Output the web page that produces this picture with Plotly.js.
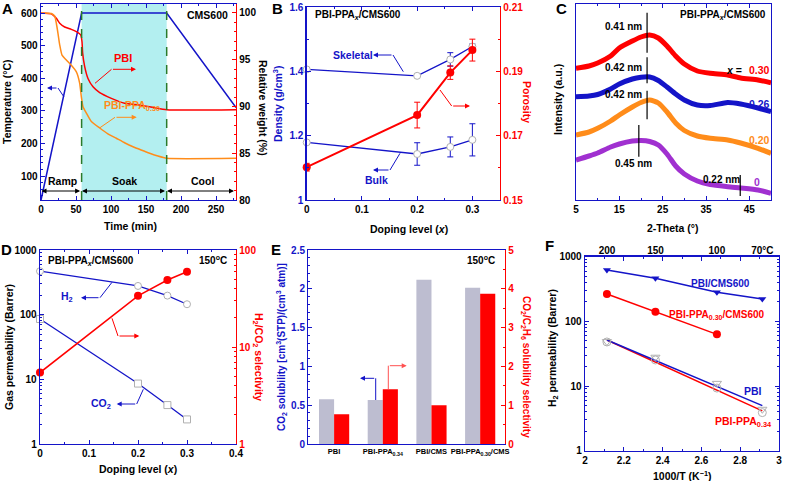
<!DOCTYPE html>
<html><head><meta charset="utf-8">
<script src="https://cdn.plot.ly/plotly-3.0.1.min.js"></script>
<style>html,body{margin:0;padding:0;background:#fff}#chart{width:785px;height:481px}</style>
</head><body><div id="chart"></div>
<script>
// ---------------- DATA ----------------
// Panel A: heating protocol and TGA
const timeTemp = [0, 58, 179.5, 278.5];
const tempC = [26, 600, 600, 310];
const timePBI = [0, 14.8, 21.9, 26.7, 33.8, 43.3, 50.5, 56.7, 58.6, 59.5, 62.4, 67.1, 74.3, 83.8, 100.5, 119.5, 140, 160, 179.5, 278.5];
const weightPBI = [100, 99.9, 99.43, 98.9, 98.5, 98.25, 98.0, 97.65, 96.9, 95.7, 94.26, 93.0, 92.1, 91.48, 90.87, 90.34, 90.15, 89.9, 89.65, 89.65];
const timePPA = [0, 14.8, 19.5, 21.9, 24.3, 26.7, 30, 36.2, 43.3, 50.5, 55.2, 57.6, 60, 64.8, 71.9, 83.8, 95, 107.6, 120, 131.4, 143, 155.2, 167, 179.5, 278.5];
const weightPPA = [100, 99.95, 99.68, 98.9, 97.8, 96.6, 95.5, 94.97, 94.4, 93.7, 92.5, 91.05, 89.98, 89.3, 88.4, 87.7, 87.1, 86.6, 86.1, 85.7, 85.35, 85.0, 84.7, 84.46, 84.46];
const soakStart = 58, soakEnd = 179.5;

// Panel B: density / porosity
const dopingB = [0, 0.2, 0.26, 0.3];
const skeletal = [1.406, 1.386, 1.437, 1.477];
const skeletalErr = [0, 0, 0.021, 0.008];
const bulk = [1.179, 1.143, 1.165, 1.187];
const bulkErr = [0, 0.035, 0.031, 0.05];
const porosity = [0.1602, 0.1764, 0.1896, 0.1966];
const porosityErr = [0.0012, 0.004, 0.0021, 0.0034];

// Panel C: XRD (smoothed traces, arbitrary intensity units)
const theta = [5, 8, 10, 13, 15, 18, 20, 22, 24, 26, 28, 30, 33, 36, 40, 43, 47, 50];
const xrd030 = [131.7, 134, 137, 144, 152, 159, 163, 165, 162, 154, 144, 136, 129, 126.7, 125, 122, 120, 117.3];
const xrd026 = [103.3, 104, 105.5, 111, 116, 121, 122.7, 123, 119.5, 113, 106, 100, 95, 94.5, 97.5, 96, 92, 88.3];
const xrd020 = [65, 68, 71.7, 79, 85, 93, 97.5, 100, 97, 88, 77, 69.5, 64, 61.7, 60, 57, 51.7, 46.7];
const xrd000 = [40, 44, 47, 53, 56, 59, 59.5, 58.5, 55, 46, 34, 26, 19, 15.5, 13.3, 12, 10, 6.7];

// Panel D: gas permeation at 150 C
const dopingD = [0, 0.2, 0.26, 0.3];
const permH2 = [470, 278, 197, 145];
const permCO2 = [85.7, 8.6, 4.0, 2.4];
const selH2CO2 = [5.45, 33.7, 49, 59.7];

// Panel E: solubility
const samplesE = ['PBI', 'PBI-PPA<sub>0.34</sub>', 'PBI/CMS', 'PBI-PPA<sub>0.30</sub>/CMS'];
const solCO2 = [0.576, 0.567, 2.117, 2.014];
const solSel = [0.765, 1.41, 0.997, 3.87];

// Panel F: Arrhenius
const invT = [2.113, 2.363, 2.68, 2.914];
const tempTopC = [200, 150, 100, 70];
const tempTopLabels = ['200', '150', '100', '70°C'];
const h2PbiCms = [622, 464, 282, 222];
const h2PpaCms = [265, 141, 63];
const h2Pbi = [48.7, 27.9, 11.0, 4.37];
const h2Ppa34 = [48, 25.3, 9.3, 3.88];
const fitX = [2.113, 2.914];
const fitPbi = [51.6, 4.98];
const fitPpa34 = [51.6, 4.12];

// ---------------- STYLE ----------------
const W = 785, H = 481;
const FF = 'Liberation Sans, Arial, Helvetica, sans-serif';
const BLUE = '#1414c8', RED = '#ff0000', ORANGE = '#ff8c1a', PURPLE = '#a030d0', GREEN = '#2a7a2a', GRAY = '#bdbdd0', CYAN = '#b3eff0', MK = '#b0b0b0';
const PX = x => x / W, PY = y => 1 - y / H;

function logMinor(a, b) { const v = []; for (let d = a; d < b; d *= 10) for (let k = 2; k <= 9; k++) v.push(d * k); return v; }
function tf(c, s) { return { family: FF, size: s || 10, weight: 'bold', color: c || '#000' }; }
function ax(o) {
  const c = o.linecolor || BLUE;
  return Object.assign({
    showgrid: false, zeroline: false, showline: true, linewidth: 1.3, linecolor: c,
    ticks: 'inside', ticklen: 4, tickwidth: 1, tickcolor: c, tickangle: 0,
    tickfont: tf(), automargin: false, fixedrange: true
  }, o);
}
function minor(dt, c) { return { ticks: 'inside', ticklen: 2, tickcolor: c || BLUE, dtick: dt }; }

const traces = [];
// A
traces.push({ x: timeTemp, y: tempC, xaxis: 'x', yaxis: 'y', mode: 'lines', line: { color: BLUE, width: 1.5 } });
traces.push({ x: timePBI, y: weightPBI, xaxis: 'x', yaxis: 'y2', mode: 'lines', line: { color: RED, width: 1.5, shape: 'spline', smoothing: 0.5 } });
traces.push({ x: timePPA, y: weightPPA, xaxis: 'x', yaxis: 'y2', mode: 'lines', line: { color: ORANGE, width: 1.5, shape: 'spline', smoothing: 0.5 } });
// B
traces.push({ x: dopingB, y: skeletal, xaxis: 'x2', yaxis: 'y3', mode: 'lines+markers', cliponaxis: false,
  line: { color: BLUE, width: 1.3 }, marker: { symbol: 'circle', size: 7, color: '#fff', line: { color: MK, width: 1 } },
  error_y: { type: 'data', array: skeletalErr, color: BLUE, thickness: 1, width: 3 } });
traces.push({ x: dopingB, y: bulk, xaxis: 'x2', yaxis: 'y3', mode: 'lines+markers', cliponaxis: false,
  line: { color: BLUE, width: 1.3 }, marker: { symbol: 'circle', size: 7, color: '#fff', line: { color: MK, width: 1 } },
  error_y: { type: 'data', array: bulkErr, color: BLUE, thickness: 1, width: 3 } });
traces.push({ x: dopingB, y: porosity, xaxis: 'x2', yaxis: 'y4', mode: 'lines+markers', cliponaxis: false,
  line: { color: RED, width: 2 }, marker: { symbol: 'circle', size: 8, color: RED },
  error_y: { type: 'data', array: porosityErr, color: RED, thickness: 1, width: 3 } });
// C
[[xrd030, RED], [xrd026, BLUE], [xrd020, ORANGE], [xrd000, PURPLE]].forEach(([d, c]) => {
  traces.push({ x: theta, y: d, xaxis: 'x3', yaxis: 'y5', mode: 'lines', line: { color: c, width: 5, shape: 'spline', smoothing: 0.6 } });
});
// D
traces.push({ x: dopingD, y: permH2, xaxis: 'x4', yaxis: 'y6', mode: 'lines+markers', cliponaxis: false,
  line: { color: BLUE, width: 1.3 }, marker: { symbol: 'circle', size: 7, color: '#fff', line: { color: MK, width: 1 } } });
traces.push({ x: dopingD, y: permCO2, xaxis: 'x4', yaxis: 'y6', mode: 'lines+markers', cliponaxis: false,
  line: { color: BLUE, width: 1.3 }, marker: { symbol: 'square', size: 7, color: '#fff', line: { color: MK, width: 1 } } });
traces.push({ x: dopingD, y: selH2CO2, xaxis: 'x4', yaxis: 'y7', mode: 'lines+markers', cliponaxis: false,
  line: { color: RED, width: 1.5 }, marker: { symbol: 'circle', size: 8, color: RED } });
// E
traces.push({ type: 'bar', x: samplesE, y: solCO2, xaxis: 'x5', yaxis: 'y8', width: 0.31, offset: -0.31, marker: { color: GRAY, line: { width: 0 } } });
traces.push({ type: 'bar', x: samplesE, y: solSel, xaxis: 'x5', yaxis: 'y9', width: 0.31, offset: 0, marker: { color: RED, line: { width: 0 } } });
// F
traces.push({ x: fitX, y: fitPpa34, xaxis: 'x6', yaxis: 'y10', mode: 'lines', line: { color: RED, width: 1.5 } });
traces.push({ x: fitX, y: fitPbi, xaxis: 'x6', yaxis: 'y10', mode: 'lines', line: { color: BLUE, width: 1.5 } });
traces.push({ x: invT, y: h2Pbi, xaxis: 'x6', yaxis: 'y10', mode: 'markers', cliponaxis: false,
  marker: { symbol: 'triangle-down-open', size: 8, color: MK } });
traces.push({ x: invT, y: h2Ppa34, xaxis: 'x6', yaxis: 'y10', mode: 'markers', cliponaxis: false,
  marker: { symbol: 'circle-open', size: 8, color: MK } });
traces.push({ x: invT, y: h2PbiCms, xaxis: 'x6', yaxis: 'y10', mode: 'lines+markers', cliponaxis: false,
  line: { color: BLUE, width: 1.5 }, marker: { symbol: 'triangle-down', size: 7, color: BLUE } });
traces.push({ x: invT.slice(0, 3), y: h2PpaCms, xaxis: 'x6', yaxis: 'y10', mode: 'lines+markers', cliponaxis: false,
  line: { color: RED, width: 1.5 }, marker: { symbol: 'circle', size: 8, color: RED } });
// invisible carrier so the top temperature axis of F is drawn
traces.push({ x: invT, y: h2PbiCms, xaxis: 'x7', yaxis: 'y10', mode: 'markers', marker: { size: 1, opacity: 0 }, hoverinfo: 'skip' });

// ---------------- ANNOTATIONS ----------------
function T(x, y, text, size, color, extra) {
  return Object.assign({ xref: 'paper', yref: 'paper', x: PX(x), y: PY(y), text: '<b>' + text + '</b>', showarrow: false,
    font: { family: FF, size: size || 10, color: color || '#000' }, xanchor: 'center', yanchor: 'middle' }, extra || {});
}
function AH(hx, hy, tx, ty, color, both) {
  const a = { xref: 'paper', yref: 'paper', x: PX(hx), y: PY(hy), ax: tx - hx, ay: ty - hy, text: '', showarrow: true,
    arrowhead: 2, arrowsize: 1, arrowwidth: 1, arrowcolor: color };
  if (both) { a.arrowside = 'end+start'; a.startarrowhead = 2; a.startarrowsize = 1; }
  return a;
}
function PL(pts, color) {
  return { type: 'path', xref: 'paper', yref: 'paper', path: pts.map((p, i) => (i ? 'L ' : 'M ') + PX(p[0]) + ' ' + PY(p[1])).join(' '),
    line: { color: color, width: 1 } };
}

const annotations = [
  // panel letters
  T(7, 8, 'A', 15), T(277, 8, 'B', 15), T(561, 8, 'C', 15), T(6, 249, 'D', 15), T(276, 249, 'E', 15), T(549, 245, 'F', 15),
  // A
  T(130, 226, 'Time (min)', 10.5), T(7, 102, 'Temperature (°C)', 10.5, '#000', { textangle: -90 }),
  T(263, 108, 'Relative weight (%)', 10.5, '#000', { textangle: 90 }),
  T(207, 15, 'CMS600', 10.5), T(123, 58, 'PBI', 11, RED), T(102, 106, 'PBI-PPA<sub>0.30</sub>', 10.5, ORANGE, { xanchor: 'left' }),
  T(62, 181, 'Ramp', 10.5), T(124, 181, 'Soak', 10.5), T(202, 181, 'Cool', 10.5),
  AH(47, 88, 58, 88, BLUE), AH(136, 69.3, 111.5, 69.3, RED), AH(136.7, 117.3, 115, 117.3, ORANGE),
  AH(41.5, 191, 81.6, 191, '#000', true), AH(82, 191, 166.5, 191, '#000', true), AH(167, 191, 235.5, 191, '#000', true),
  // B
  T(409, 229, 'Doping level (<i>x</i>)', 10.5), T(277, 104, 'Density (g/cm<sup>3</sup>)', 10.5, BLUE, { textangle: -90 }),
  T(527, 102, 'Porosity', 10.5, RED, { textangle: 90 }),
  T(313, 15, 'PBI-PPA<sub><i>x</i></sub>/CMS600', 10, '#000', { xanchor: 'left' }),
  T(353, 55, 'Skeletal', 10.5, BLUE), T(376, 180, 'Bulk', 10.5, BLUE),
  AH(373, 55, 393, 55, BLUE), AH(373, 170, 390, 170, BLUE), AH(470, 106, 451.7, 106, RED),
  // C
  T(672, 228, '2-Theta (°)', 10.5), T(558, 100, 'Intensity (a.u.)', 10.5, '#000', { textangle: -90 }),
  T(768, 15, 'PBI-PPA<sub><i>x</i></sub>/CMS600', 10, '#000', { xanchor: 'right' }),
  T(623, 26, '0.41 nm', 10), T(623, 67, '0.42 nm', 10), T(623, 94.5, '0.42 nm', 10), T(633, 163, '0.45 nm', 10), T(721, 179, '0.22 nm', 10),
  T(744, 70, '<i>x</i> =', 10.5, '#000', { xanchor: 'right' }), T(747, 70, '0.30', 10.5, RED, { xanchor: 'left' }),
  T(747, 104, '0.26', 10.5, BLUE, { xanchor: 'left' }), T(747, 140, '0.20', 10.5, ORANGE, { xanchor: 'left' }),
  T(752, 182, '0', 10.5, PURPLE, { xanchor: 'left' }),
  // D
  T(138, 469, 'Doping level (<i>x</i>)', 10.5), T(9, 347, 'Gas permeability (Barrer)', 10.5, '#000', { textangle: -90 }),
  T(258, 357, 'H<sub>2</sub>/CO<sub>2</sub> selectivity', 10.5, RED, { textangle: 90 }),
  T(46, 261, 'PBI-PPA<sub><i>x</i></sub>/CMS600', 10, '#000', { xanchor: 'left' }),
  T(213, 260, '150<sup>o</sup>C', 10), T(67, 297, 'H<sub>2</sub>', 10.5, BLUE), T(101, 404, 'CO<sub>2</sub>', 10.5, BLUE),
  AH(81, 297.7, 100, 297.7, BLUE), AH(116.7, 404, 136.7, 404, BLUE), AH(139.3, 336, 118, 336, RED),
  // E
  T(281, 347, 'CO<sub>2</sub> solubility [cm<sup>3</sup>(STP)/(cm<sup>3</sup> atm)]', 10, BLUE, { textangle: -90 }),
  T(526, 367, 'CO<sub>2</sub>/C<sub>2</sub>H<sub>6</sub> solubility selectivity', 10, RED, { textangle: 90 }),
  T(481, 260, '150<sup>o</sup>C', 10),
  AH(360, 378.3, 375.7, 378.3, BLUE), AH(406.7, 365.7, 388.3, 365.7, '#ff5050'),
  // F
  T(682, 475, '1000/T (K<sup>−1</sup>)', 10.5), T(553, 348, 'H<sub>2</sub> permeability (Barrer)', 10.5, '#000', { textangle: -90 }),
  T(720, 283, 'PBI/CMS600', 10, BLUE), T(717, 315, 'PBI-PPA<sub>0.30</sub>/CMS600', 10, RED),
  T(753, 391, 'PBI', 10.5, BLUE), T(743, 422, 'PBI-PPA<sub>0.34</sub>', 10.5, RED)
];

const shapes = [
  { type: 'rect', xref: 'x', yref: 'y domain', x0: soakStart, x1: soakEnd, y0: 0, y1: 1, fillcolor: CYAN, line: { width: 0 }, layer: 'below' },
  { type: 'line', xref: 'x', yref: 'y domain', x0: soakStart, x1: soakStart, y0: 0, y1: 1, line: { color: GREEN, width: 1.5, dash: 'dash' } },
  { type: 'line', xref: 'x', yref: 'y domain', x0: soakEnd, x1: soakEnd, y0: 0, y1: 1, line: { color: GREEN, width: 1.5, dash: 'dash' } },
  // A arrow tails
  PL([[58, 88], [64, 97]], BLUE), PL([[95, 83.3], [111.5, 69.3]], RED), PL([[100, 127.7], [115, 117.3]], ORANGE),
  // B
  PL([[393, 55], [403.3, 71.7]], BLUE), PL([[390, 170], [400, 153.3]], BLUE), PL([[440, 90], [451.7, 106]], RED),
  // C peak markers
  ...[[21.4, 12.7, 52.7], [21.4, 57.3, 83.3], [21.4, 90.7, 119.3], [19.5, 125, 156.7], [42.9, 175, 196]].map(v =>
    ({ type: 'line', xref: 'x3', yref: 'paper', x0: v[0], x1: v[0], y0: PY(v[1]), y1: PY(v[2]), line: { color: '#000', width: 1.2 } })),
  // D
  PL([[100, 297.7], [112, 282.3]], BLUE), PL([[136.7, 404], [143.3, 389.3]], BLUE), PL([[112, 318.3], [118, 336]], RED),
  // E
  PL([[375.7, 400], [375.7, 378.3]], BLUE), PL([[388.3, 389.3], [388.3, 365.7]], '#ff5050')
];

const layout = {
  width: W, height: H, margin: { l: 0, r: 0, t: 0, b: 0 }, showlegend: false,
  paper_bgcolor: '#fff', plot_bgcolor: 'rgba(0,0,0,0)', font: { family: FF, size: 10, color: '#000' },
  hovermode: false,
  // A
  xaxis: ax({ domain: [PX(41), PX(236)], anchor: 'y', range: [0, 278.5], dtick: 50, mirror: 'ticks', minor: minor(25) }),
  yaxis: ax({ domain: [PY(200), PY(4)], anchor: 'x', range: [26.4, 627.6], dtick: 100, tick0: 0, minor: minor(20) }),
  yaxis2: ax({ overlaying: 'y', side: 'right', anchor: 'x', range: [80, 100.96], dtick: 5, linecolor: RED, minor: minor(1, RED) }),
  // B
  xaxis2: ax({ domain: [PX(306.7), PX(500)], anchor: 'y3', range: [0, 0.35], dtick: 0.1, mirror: 'ticks', minor: minor(0.05) }),
  yaxis3: ax({ domain: [PY(200), PY(7)], anchor: 'x2', range: [1, 1.6], dtick: 0.2, tick0: 1, minor: minor(0.1), tickfont: tf(BLUE) }),
  yaxis4: ax({ overlaying: 'y3', side: 'right', anchor: 'x2', range: [0.15, 0.21], tick0: 0.15, dtick: 0.02, linecolor: RED, minor: minor(0.01, RED), tickfont: tf(RED) }),
  // C
  xaxis3: ax({ domain: [PX(576), PX(771)], anchor: 'y5', range: [5, 50], tick0: 5, dtick: 10, mirror: 'ticks', minor: minor(5) }),
  yaxis5: ax({ domain: [PY(200), PY(4)], anchor: 'x3', range: [0, 196], showticklabels: false, ticks: '', mirror: true }),
  // D
  xaxis4: ax({ domain: [PX(40), PX(236)], anchor: 'y6', range: [0, 0.4], dtick: 0.1, mirror: 'ticks', minor: minor(0.05) }),
  yaxis6: ax({ domain: [PY(444), PY(250)], anchor: 'x4', type: 'log', range: [0, 3], tickmode: 'array', tickvals: [1, 10, 100, 1000], ticktext: ['1', '10', '100', '1000'],
    minor: { ticks: 'inside', ticklen: 2, tickcolor: BLUE, tickmode: 'array', tickvals: logMinor(1, 1000) } }),
  yaxis7: ax({ overlaying: 'y6', side: 'right', anchor: 'x4', type: 'log', range: [0, 2], linecolor: RED, tickmode: 'array', tickvals: [1, 10, 100], ticktext: ['1', '10', '100'],
    tickfont: tf(RED), minor: { ticks: 'inside', ticklen: 2, tickcolor: RED, tickmode: 'array', tickvals: logMinor(1, 100) } }),
  // E
  xaxis5: ax({ domain: [PX(308.3), PX(505)], anchor: 'y8', type: 'category', range: [-0.53, 3.51], ticks: '', mirror: true, tickfont: tf('#000', 7.5) }),
  yaxis8: ax({ domain: [PY(444), PY(250)], anchor: 'x5', range: [0, 2.5], dtick: 0.5, minor: minor(0.1), tickfont: tf(BLUE) }),
  yaxis9: ax({ overlaying: 'y8', side: 'right', anchor: 'x5', range: [0, 5], dtick: 1, linecolor: RED, minor: minor(0.5, RED), tickfont: tf(RED) }),
  // F
  xaxis6: ax({ domain: [PX(585), PX(779)], anchor: 'y10', range: [2, 3], dtick: 0.2, mirror: 'ticks', minor: minor(0.1) }),
  yaxis10: ax({ domain: [PY(450.7), PY(256.7)], anchor: 'x6', type: 'log', range: [0, 3], mirror: 'ticks', tickmode: 'array', tickvals: [1, 10, 100, 1000], ticktext: ['1', '10', '100', '1000'],
    minor: { ticks: 'inside', ticklen: 2, tickcolor: BLUE, tickmode: 'array', tickvals: logMinor(1, 1000) } }),
  xaxis7: ax({ overlaying: 'x6', side: 'top', anchor: 'y10', range: [2, 3], showline: false, ticks: '', tickmode: 'array',
    tickvals: tempTopC.map(t => 1000 / (t + 273.15)), ticktext: tempTopLabels }),
  annotations: annotations, shapes: shapes
};

Plotly.newPlot('chart', traces, layout, { staticPlot: true, displayModeBar: false });
</script></body></html>
